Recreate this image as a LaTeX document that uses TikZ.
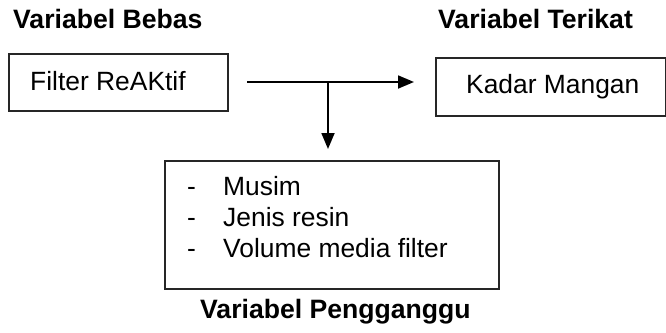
\documentclass[tikz,border=0pt]{standalone}
\usepackage{fontspec}
\setmainfont{Liberation Sans}
\usetikzlibrary{arrows.meta}
\begin{document}
\begin{tikzpicture}[x=1pt,y=1pt,
  boxstyle/.style={draw=black!85,line width=1.6pt,inner sep=0pt,anchor=north west},
  txt/.style={inner sep=0pt,anchor=base west,font=\fontsize{26.4}{30}\selectfont},
  head/.style={txt,font=\fontsize{26.6}{30}\selectfont\bfseries},
  conn/.style={line width=1.8pt,-{Triangle[length=16pt,width=13pt]}}]
\useasboundingbox (0,0) rectangle (666,-332);
% headers
\node[head] (hb) at (13,-28) {Variabel Bebas};
\node[head] (ht) at (438,-28) {Variabel Terikat};
\node[head] (hp) at (200,-318) {Variabel Pengganggu};
% boxes
\node[boxstyle,minimum width=219pt,minimum height=57pt] (fr) at (8,-53) {};
\node[boxstyle,minimum width=230pt,minimum height=58pt] (km) at (435,-57) {};
\node[boxstyle,minimum width=334pt,minimum height=128pt] (vp) at (164,-160) {};
% box texts
\node[txt] (tfr) at (30,-90) {Filter ReAKtif};
\node[txt] (tkm) at (466,-93) {Kadar Mangan};
\node[txt] (d1) at (187,-195) {-};
\node[txt] (d2) at (187,-226) {-};
\node[txt] (d3) at (187,-257) {-};
\node[txt] (l1) at (223,-195) {Musim};
\node[txt] (l2) at (223,-226) {Jenis resin};
\node[txt] (l3) at (223,-257) {Volume media filter};
% connectors
\coordinate (a1) at (247,-82);
\coordinate (a2) at (414,-82);
\coordinate (j) at (328,-82);
\coordinate (a3) at (328,-149);
\draw[conn] (a1) -- (a2);
\draw[conn] (j) -- (a3);
\end{tikzpicture}
\end{document}
